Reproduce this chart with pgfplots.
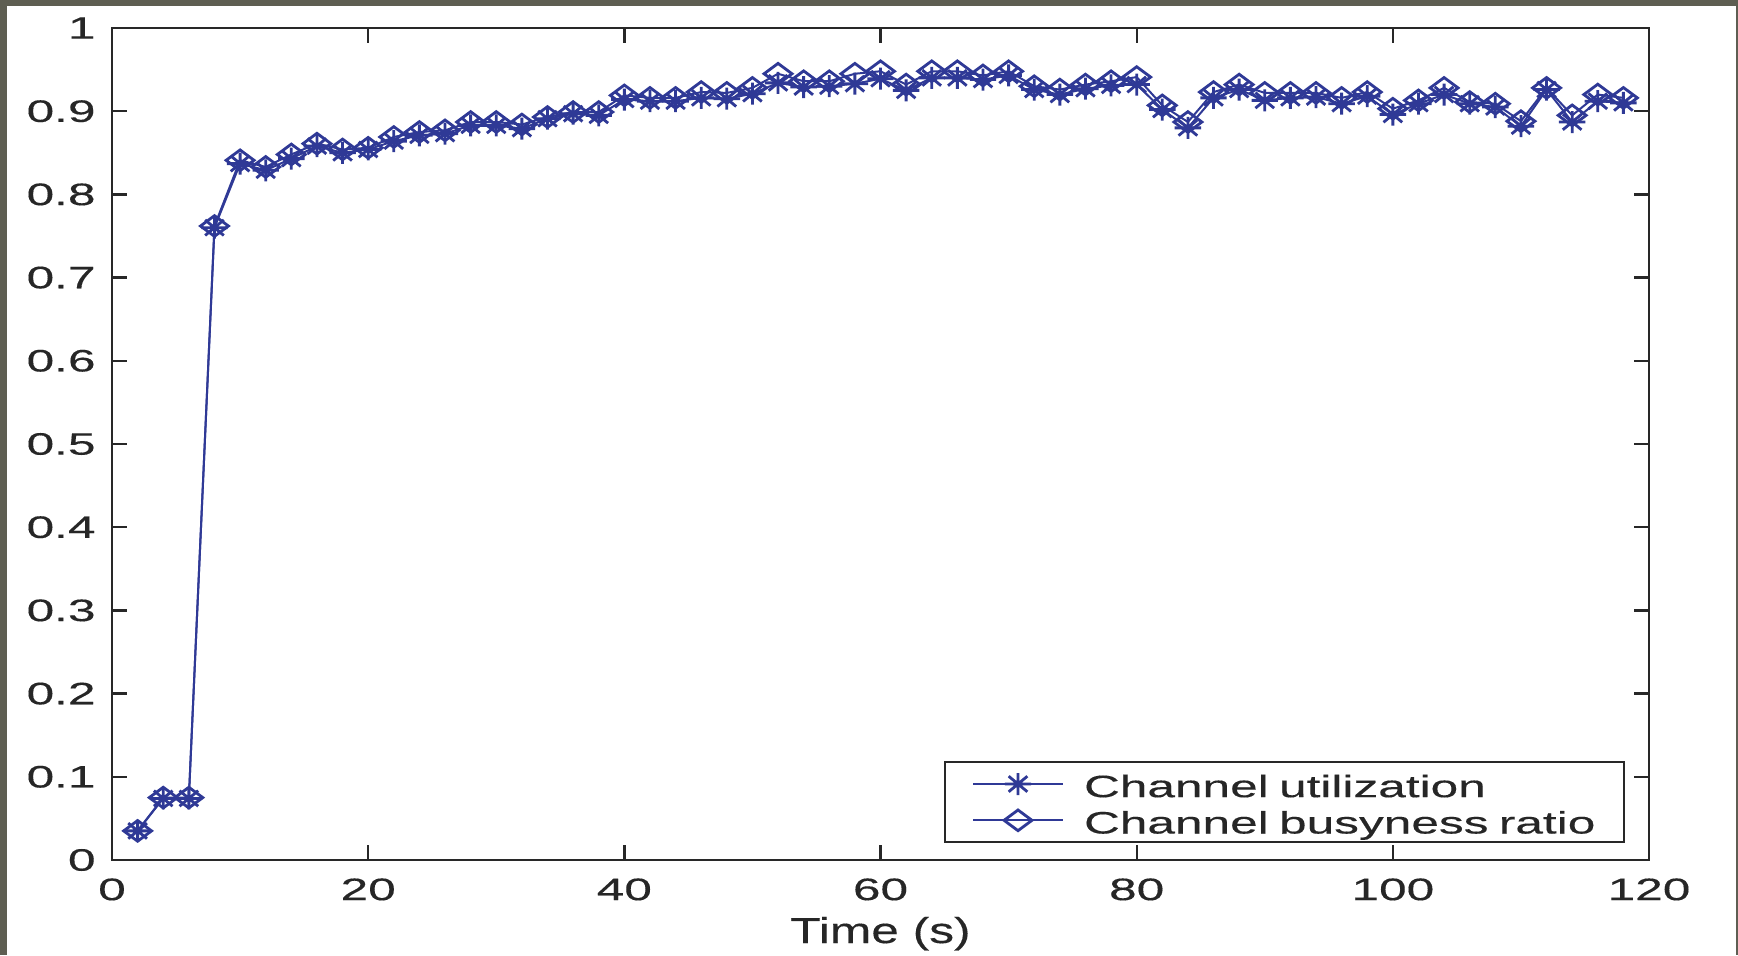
\documentclass[border=0pt]{standalone}
\usepackage{fontspec}
\setmainfont{Liberation Sans}[FakeStretch=1.38,FakeBold=0.3]
\newfontfamily\lsfont{Liberation Sans}[FakeStretch=1.6,FakeBold=0.3]
\usepackage{pgfplots}
\usepackage{pgfplotstable}
\pgfplotsset{compat=1.18}
\definecolor{mblue}{RGB}{47,57,150}
\definecolor{framegray}{RGB}{94,94,82}
\definecolor{axgray}{RGB}{40,40,40}

\pgfdeclareplotmark{mstar}{%
  \pgfpathmoveto{\pgfqpoint{-\pgfplotmarksize}{0pt}}%
  \pgfpathlineto{\pgfqpoint{\pgfplotmarksize}{0pt}}%
  \pgfpathmoveto{\pgfqpoint{0pt}{-\pgfplotmarksize}}%
  \pgfpathlineto{\pgfqpoint{0pt}{\pgfplotmarksize}}%
  \pgfpathmoveto{\pgfqpoint{-.707\pgfplotmarksize}{-.707\pgfplotmarksize}}%
  \pgfpathlineto{\pgfqpoint{.707\pgfplotmarksize}{.707\pgfplotmarksize}}%
  \pgfpathmoveto{\pgfqpoint{-.707\pgfplotmarksize}{.707\pgfplotmarksize}}%
  \pgfpathlineto{\pgfqpoint{.707\pgfplotmarksize}{-.707\pgfplotmarksize}}%
  \pgfusepathqstroke}

\pgfplotstableread{
x y
2 0.035
4 0.074
6 0.074
8 0.760
10 0.837
12 0.829
14 0.843
16 0.858
18 0.850
20 0.854
22 0.864
24 0.871
26 0.873
28 0.883
30 0.883
32 0.879
34 0.891
36 0.897
38 0.895
40 0.914
42 0.912
44 0.912
46 0.916
48 0.915
50 0.921
52 0.934
54 0.929
56 0.930
58 0.933
60 0.939
62 0.925
64 0.940
66 0.940
68 0.938
70 0.943
72 0.926
74 0.920
76 0.927
78 0.931
80 0.932
82 0.902
84 0.880
86 0.916
88 0.926
90 0.913
92 0.916
94 0.917
96 0.909
98 0.918
100 0.896
102 0.909
104 0.920
106 0.909
108 0.905
110 0.882
112 0.926
114 0.887
116 0.912
118 0.910
}\utiltable

\pgfplotstableread{
x y
2 0.035
4 0.075
6 0.075
8 0.762
10 0.841
12 0.833
14 0.848
16 0.861
18 0.854
20 0.856
22 0.869
24 0.875
26 0.877
28 0.887
30 0.887
32 0.884
34 0.893
36 0.899
38 0.899
40 0.919
42 0.916
44 0.916
46 0.923
48 0.922
50 0.928
52 0.945
54 0.936
56 0.936
58 0.945
60 0.948
62 0.932
64 0.948
66 0.948
68 0.943
70 0.948
72 0.930
74 0.926
76 0.932
78 0.936
80 0.941
82 0.907
84 0.887
86 0.923
88 0.932
90 0.922
92 0.922
94 0.922
96 0.916
98 0.923
100 0.903
102 0.913
104 0.928
106 0.911
108 0.909
110 0.888
112 0.928
114 0.895
116 0.920
118 0.916
}\busytable

\begin{document}
\begin{tikzpicture}[x=1pt,y=1pt]
\fill[framegray] (0,0) rectangle (521.4,286.5);
\fill[white] (2.2,0) rectangle (520.8,284.7);
\begin{axis}[
  scale only axis, width=461.1pt, height=249.6pt,
  at={(33.6pt,28.5pt)}, anchor=south west,
  xmin=0, xmax=120, ymin=0, ymax=1,
  xtick={0,20,40,60,80,100,120},
  ytick={0,0.1,0.2,0.3,0.4,0.5,0.6,0.7,0.8,0.9,1},
  /pgf/number format/assume math mode=true,
  tick label style={font=\lsfont\fontsize{9.3}{11}\selectfont, text=black!85},
  yticklabel style={xshift=-1.4pt},
  xticklabel style={yshift=-2pt},
  tick align=inside,
  major tick length=4.5pt,
  axis line style={axgray, line width=0.7pt},
  tick style={axgray, line width=0.7pt},
  xlabel={Time (s)},
  xlabel style={font=\fontsize{10.8}{13}\selectfont, text=black!85, inner sep=0pt,
    at={(axis description cs:0.5,0)}, anchor=base, yshift=-24.9pt},
  legend cell align=left,
  legend style={at={(1,0)}, anchor=south east, xshift=-7.2pt, yshift=5.1pt,
    draw=axgray, line width=0.6pt, fill=white,
    inner xsep=0pt, inner ysep=1.05pt, row sep=0pt,
    nodes={inner sep=0pt},
    font=\lsfont\fontsize{9.3}{11}\selectfont, text=black!85,
    /tikz/every odd column/.append style={column sep=6pt},
    /tikz/every even column/.append style={text height=9.4pt, text depth=2pt, text width=162pt}},
  legend image code/.code={%
    \path (0pt,0pt) (35.1pt,0pt);
    \draw[mark repeat=2,mark phase=2] plot coordinates {(8.1pt,0pt) (21.6pt,0pt) (35.1pt,0pt)};
  },
]
\addplot[mblue, line width=0.6pt, mark=mstar, mark size=3.3pt,
  mark options={line width=0.85pt, xscale=1.2}] table[x=x,y=y] {\utiltable};
\addlegendentry{Channel utilization}
\addplot[mblue, line width=0.6pt, mark=diamond, mark size=3.1pt,
  mark options={line width=0.85pt, xscale=1.8, fill=none}] table[x=x,y=y] {\busytable};
\addlegendentry{Channel busyness ratio}
\end{axis}
\end{tikzpicture}
\end{document}
